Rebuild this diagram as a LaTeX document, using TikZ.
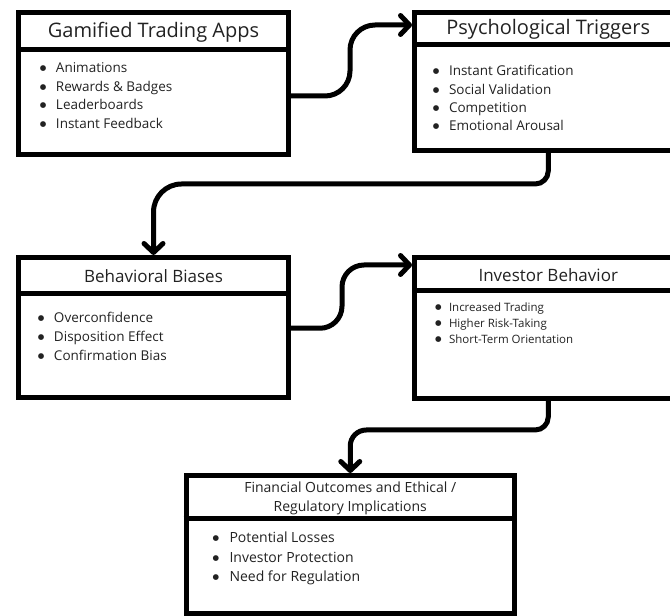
\documentclass[tikz,border=0pt]{standalone}
\usepackage{fontspec}
\setmainfont{Open Sans}
\newfontfamily\symfont{DejaVu Sans}
\usetikzlibrary{arrows.meta}
\definecolor{ink}{HTML}{222222}
\newcommand{\bul}{\makebox[1.2em][l]{\raisebox{2pt}{\symfont\fontsize{7.5}{8}\selectfont ●}}}

\begin{document}
\begin{tikzpicture}[x=1pt,y=1pt,
    box/.style={draw, line width=5pt, inner sep=0pt},
    head/.style={text=ink, font=\fontsize{#1}{19}\selectfont, align=center},
    items/.style={anchor=north west, inner sep=0pt, text=ink, align=left},
    link/.style={line width=5pt, -{Straight Barb[length=9pt,width=19pt,round]}}]
    \useasboundingbox (0,0) rectangle (670,616);
    \clip (0,0) rectangle (670,616);

    % gamified trading apps
    \node[box, minimum width=270pt, minimum height=142pt] (apps) at (153.5,532.5) {};
    \draw[line width=5pt] ([yshift=-39.5pt]apps.north west) -- ([yshift=-39.5pt]apps.north east);
    \node[head=20] (appsT) at ([yshift=-22.5pt]apps.north) {Gamified Trading Apps};
    \node[items, font=\fontsize{13.5}{18.7}\selectfont] (appsL) at ([xshift=23.6pt,yshift=-52.2pt]apps.north west)
        {\bul Animations\\ \bul Rewards \& Badges\\ \bul Leaderboards\\ \bul Instant Feedback};

    % psychological triggers
    \node[box, minimum width=267.5pt, minimum height=138pt] (trig) at (548.25,534.5) {};
    \draw[line width=5pt] ([yshift=-34.5pt]trig.north west) -- ([yshift=-34.5pt]trig.north east);
    \node[head=20] (trigT) at ([yshift=-19.5pt]trig.north) {Psychological Triggers};
    \node[items, font=\fontsize{13.5}{18.3}\selectfont] (trigL) at ([xshift=20.6pt,yshift=-55.2pt]trig.north west)
        {\bul Instant Gratification\\ \bul Social Validation\\ \bul Competition\\ \bul Emotional Arousal};

    % behavioral biases
    \node[box, minimum width=270pt, minimum height=140.5pt] (bias) at (153.5,288.25) {};
    \draw[line width=5pt] ([yshift=-38.5pt]bias.north west) -- ([yshift=-38.5pt]bias.north east);
    \node[head=17] (biasT) at ([yshift=-21pt]bias.north) {Behavioral Biases};
    \node[items, font=\fontsize{13.5}{19}\selectfont] (biasL) at ([xshift=21.6pt,yshift=-57.2pt]bias.north west)
        {\bul Overconfidence\\ \bul Disposition Effect\\ \bul Confirmation Bias};

    % investor behavior
    \node[box, minimum width=267.5pt, minimum height=141pt] (inv) at (548.25,288) {};
    \draw[line width=5pt] ([yshift=-35.5pt]inv.north west) -- ([yshift=-35.5pt]inv.north east);
    \node[head=17] (invT) at ([yshift=-20.5pt]inv.north) {Investor Behavior};
    \node[items, font=\fontsize{11.5}{16}\selectfont] (invL) at ([xshift=23pt,yshift=-47.5pt]inv.north west)
        {\bul Increased Trading\\ \bul Higher Risk-Taking\\ \bul Short-Term Orientation};

    % outcomes
    \node[box, minimum width=328.5pt, minimum height=138pt] (out) at (350.25,71.5) {};
    \draw[line width=5pt] ([yshift=-45.5pt]out.north west) -- ([yshift=-45.5pt]out.north east);
    \node[head=14] (outT) at ([yshift=-25pt]out.north) {Financial Outcomes and Ethical /\\ Regulatory Implications};
    \node[items, font=\fontsize{14}{19.5}\selectfont] (outL) at ([xshift=29pt,yshift=-59pt]out.north west)
        {\bul Potential Losses\\ \bul Investor Protection\\ \bul Need for Regulation};

    % connectors
    \coordinate (bend2) at (0,432);
    \coordinate (bend4) at (0,186);
    \draw[link, rounded corners=25pt] ([yshift=-12.5pt]apps.east) -- ++(59,0) |- ([yshift=56.5pt]trig.west);
    \draw[link] (trig.south) -- ++(0,-18) arc[start angle=0,end angle=-90,radius=13]
        -- ([xshift=28pt]bias.north |- bend2) arc[start angle=90,end angle=180,radius=28] -- (bias.north);
    \draw[link, rounded corners=22pt] ([yshift=-0.5pt]bias.east) -- ++(51,0) |- ([yshift=63pt]inv.west);
    \draw[link] (inv.south) -- ++(0,-16) arc[start angle=0,end angle=-90,radius=13]
        -- ([xshift=16pt]out.north |- bend4) arc[start angle=90,end angle=180,radius=16] -- (out.north);
\end{tikzpicture}
\end{document}
